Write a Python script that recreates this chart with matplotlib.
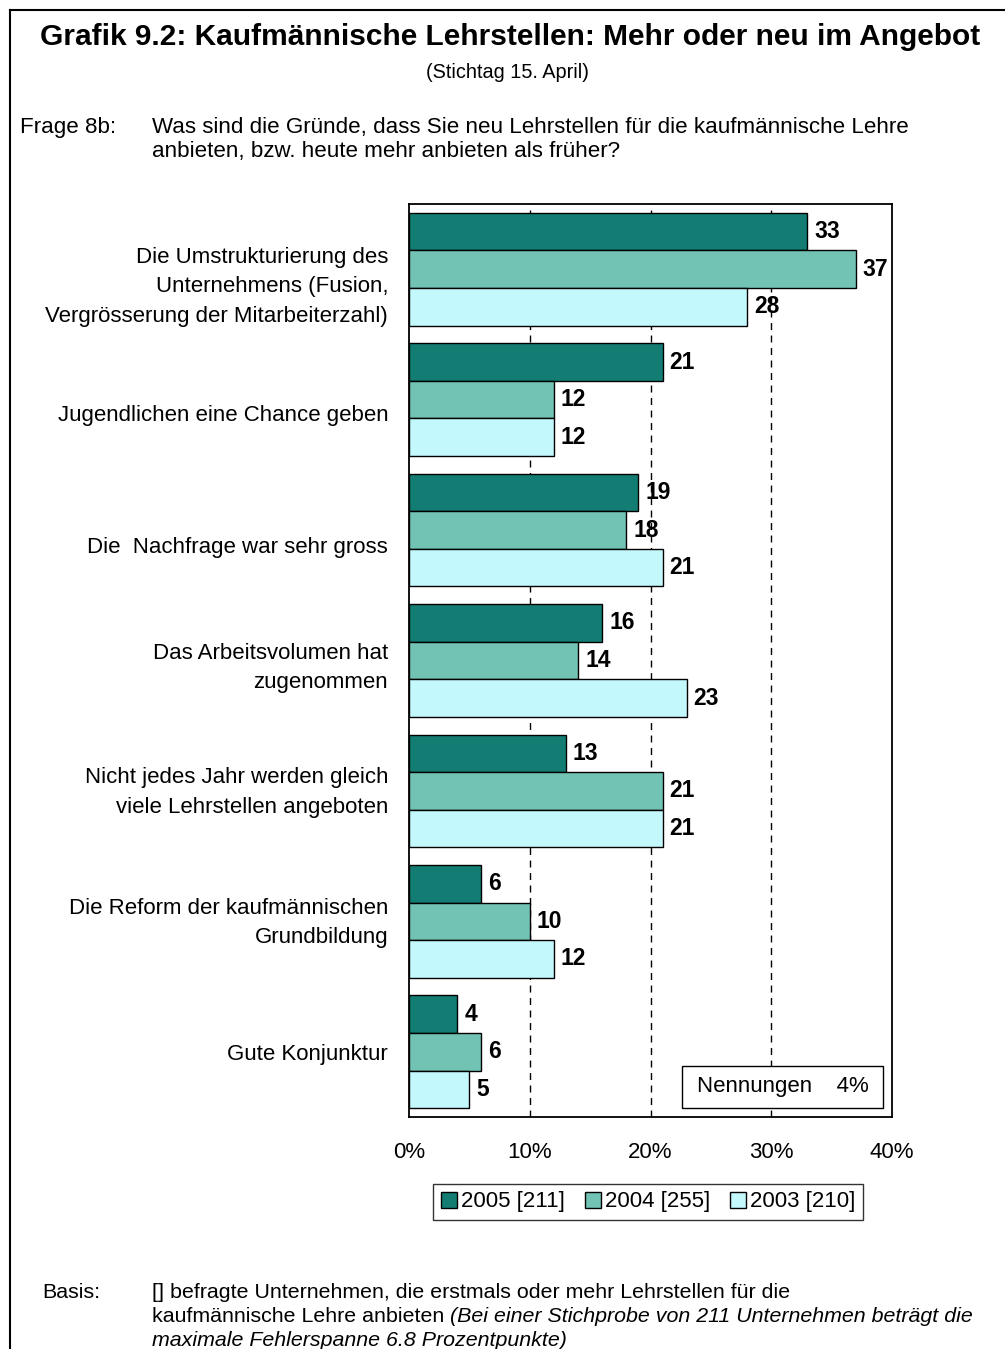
import matplotlib
matplotlib.use("Agg")
import matplotlib.pyplot as plt
import matplotlib.transforms as mtransforms
from matplotlib.lines import Line2D
from matplotlib.patches import Patch, Rectangle
import numpy as np

plt.rcParams['font.family'] = ['Liberation Sans', 'DejaVu Sans']

categories = [
    "Die Umstrukturierung des\nUnternehmens (Fusion,\nVergrösserung der Mitarbeiterzahl)",
    "Jugendlichen eine Chance geben",
    "Die  Nachfrage war sehr gross",
    "Das Arbeitsvolumen hat\nzugenommen",
    "Nicht jedes Jahr werden gleich\nviele Lehrstellen angeboten",
    "Die Reform der kaufmännischen\nGrundbildung",
    "Gute Konjunktur",
]
series_names = ["2005 [211]", "2004 [255]", "2003 [210]"]
values_2005 = [33, 21, 19, 16, 13, 6, 4]
values_2004 = [37, 12, 18, 14, 21, 10, 6]
values_2003 = [28, 12, 21, 23, 21, 12, 5]
series_values = [values_2005, values_2004, values_2003]
colors = ["#137D73", "#72C3B4", "#C3F8FC"]
xticks = [0, 10, 20, 30, 40]
xtick_labels = ["0%", "10%", "20%", "30%", "40%"]

W, H = 1005, 1349
FS = 16
fig = plt.figure(figsize=(W / 100, H / 100), dpi=100)

# frame lines (left and top)
fig.add_artist(Line2D([10 / W, 10 / W], [0, 1 - 10 / H], color="black", lw=1.5, transform=fig.transFigure))
fig.add_artist(Line2D([10 / W, 1], [1 - 10 / H, 1 - 10 / H], color="black", lw=1.5, transform=fig.transFigure))

# titles
fig.text(510 / W, 1 - 37 / H, "Grafik 9.2: Kaufmännische Lehrstellen: Mehr oder neu im Angebot",
         ha="center", va="center", fontsize=21.5, fontweight="bold")
fig.text(508 / W, 1 - 72 / H, "(Stichtag 15. April)", ha="center", va="center", fontsize=14.3)
fig.text(20 / W, 1 - 127 / H, "Frage 8b:", ha="left", va="center", fontsize=16.1)
fig.text(152 / W, 1 - 127 / H, "Was sind die Gründe, dass Sie neu Lehrstellen für die kaufmännische Lehre",
         ha="left", va="center", fontsize=16.1)
fig.text(152 / W, 1 - 151 / H, "anbieten, bzw. heute mehr anbieten als früher?",
         ha="left", va="center", fontsize=16.1)

ax = fig.add_axes([409 / W, 1 - 1117 / H, 483 / W, 913 / H])
n = len(categories)
y = np.arange(n)
bh = 0.288
offsets = [-bh, 0, bh]
for vals, off, col, name in zip(series_values, offsets, colors, series_names):
    bars = ax.barh(y + off, vals, height=bh, color=col, edgecolor="black", linewidth=1.0,
                   zorder=3, label=name)
    for b, v in zip(bars, vals):
        ax.annotate(str(v), xy=(b.get_width(), b.get_y() + b.get_height() / 2),
                    xytext=(7, 0), textcoords="offset pixels", ha="left", va="center",
                    fontsize=16.5, fontweight="bold", zorder=4)

ax.set_xlim(0, 40)
ax.set_ylim(n - 0.5, -0.5)
ax.set_xticks(xticks)
ax.set_xticklabels(xtick_labels, fontsize=FS)
ax.set_yticks(y)
ax.set_yticklabels(categories, fontsize=FS, ha="right", linespacing=1.53)
ax.tick_params(axis="both", length=0)
ax.tick_params(axis="x", pad=18)
ax.tick_params(axis="y", pad=15)
# small vertical nudges of the category labels (as in the original layout)
label_nudge_px = [11, 13, 15, 1, -5, -5, 0]
for lab, d in zip(ax.get_yticklabels(), label_nudge_px):
    lab.set_transform(lab.get_transform() + mtransforms.Affine2D().translate(0, -d))

for x in xticks[1:-1]:
    ax.axvline(x, color="black", lw=1.0, ls=(0, (5, 4)), zorder=1)
for s in ax.spines.values():
    s.set_linewidth(1.3)
    s.set_color("black")

# Nennungen box
ax.add_patch(Rectangle((0.565, 0.0099), 0.416, 0.046, transform=ax.transAxes,
                       facecolor="white", edgecolor="black", linewidth=1.0, zorder=5))
ax.text(0.952, 0.0329, "Nennungen    4%", transform=ax.transAxes, ha="right", va="center",
        fontsize=FS, zorder=6)

handles = [Patch(facecolor=c, edgecolor="black", linewidth=1.0) for c in colors]
leg = fig.legend(handles, series_names, loc="center", bbox_to_anchor=(648 / W, 1 - 1202 / H),
                 ncol=3, frameon=True, fancybox=False, edgecolor="black", fontsize=FS,
                 handlelength=0.72, handleheight=0.72, handletextpad=0.18, columnspacing=0.9,
                 borderpad=0.35, borderaxespad=0)
leg.get_frame().set_linewidth(1.0)

fig.text(42 / W, 1 - 1293 / H, "Basis:", ha="left", va="center", fontsize=15.4)
fig.text(152 / W, 1 - 1293 / H, "[] befragte Unternehmen, die erstmals oder mehr Lehrstellen für die",
         ha="left", va="center", fontsize=15.4)
t1 = fig.text(152 / W, 1 - 1317 / H, "kaufmännische Lehre anbieten ", ha="left", va="center", fontsize=15.4)
fig.canvas.draw()
bb = t1.get_window_extent()
fig.text(bb.x1 / W, 1 - 1317 / H, "(Bei einer Stichprobe von 211 Unternehmen beträgt die",
         ha="left", va="center", fontsize=15.4, style="italic")
fig.text(152 / W, 1 - 1340 / H, "maximale Fehlerspanne 6.8 Prozentpunkte)",
         ha="left", va="center", fontsize=15.4, style="italic")

fig.savefig("out.png", dpi=100)
